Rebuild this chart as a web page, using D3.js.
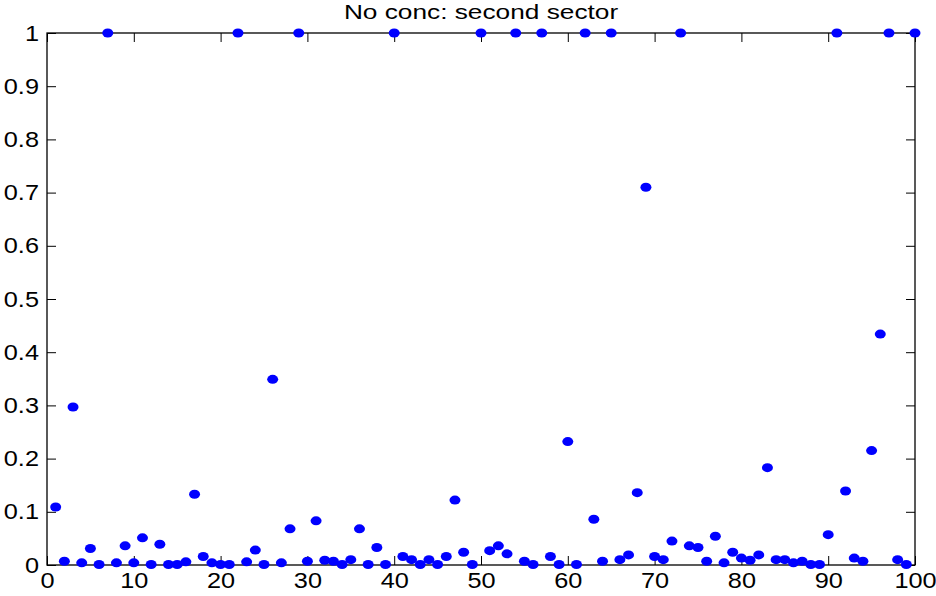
<!DOCTYPE html>
<html>
<head>
<meta charset="utf-8">
<script src="https://cdn.jsdelivr.net/npm/d3@7"></script>
<style>
  body { margin: 0; background: #fff; }
  svg { display: block; font-family: "Liberation Sans", Arial, sans-serif; }
  .axis text { font-size: 22px; fill: #000; }
  .axis line { stroke: #000; }
  .title { font-size: 21px; }
</style>
</head>
<body>
<svg width="936" height="596"></svg>
<script>
  // values, one per index 1..100
  const values = [
    0.109, 0.007, 0.297, 0.004, 0.031, 0.001, 1, 0.004, 0.036, 0.004,
    0.051, 0.001, 0.039, 0.001, 0.001, 0.006, 0.133, 0.016, 0.004, 0.001,
    0.001, 1, 0.006, 0.028, 0.001, 0.349, 0.004, 0.068, 1, 0.007,
    0.083, 0.009, 0.007, 0.001, 0.010, 0.068, 0.001, 0.033, 0.001, 1,
    0.016, 0.010, 0.001, 0.010, 0.001, 0.016, 0.122, 0.024, 0.001, 1,
    0.027, 0.036, 0.021, 1, 0.007, 0.001, 1, 0.016, 0.001, 0.232,
    0.001, 1, 0.086, 0.007, 1, 0.010, 0.019, 0.136, 0.710, 0.016,
    0.010, 0.045, 1, 0.036, 0.033, 0.007, 0.054, 0.004, 0.024, 0.013,
    0.009, 0.019, 0.183, 0.010, 0.010, 0.004, 0.007, 0.001, 0.001, 0.057,
    1, 0.139, 0.013, 0.007, 0.215, 0.434, 1, 0.010, 0.001, 1
  ];
  const index = values.map((v, i) => i + 1);
  const xTicks = [0, 10, 20, 30, 40, 50, 60, 70, 80, 90, 100];
  const yTicks = [0, 0.1, 0.2, 0.3, 0.4, 0.5, 0.6, 0.7, 0.8, 0.9, 1];
  const title = 'No conc: second sector';

  const svg = d3.select('svg');
  const margin = {top: 33, right: 21, bottom: 31, left: 47};
  const width = 936 - margin.left - margin.right;
  const height = 596 - margin.top - margin.bottom;

  const g = svg.append('g')
    .attr('transform', 'translate(' + margin.left + ',' + margin.top + ')');

  const x = d3.scaleLinear().domain([0, 100]).range([0, width]);
  const y = d3.scaleLinear().domain([0, 1]).range([height, 0]);

  // box
  g.append('rect')
    .attr('width', width)
    .attr('height', height)
    .attr('fill', 'none')
    .attr('stroke', '#000')
    .attr('stroke-width', 1.3);

  const tick = 9;
  // bottom + left with labels, top + right mirrored ticks only
  g.append('g')
    .attr('class', 'axis axis-x')
    .attr('transform', 'translate(0,' + height + ')')
    .call(d3.axisBottom(x).tickValues(xTicks).tickSizeInner(-tick).tickSizeOuter(0).tickPadding(7).tickFormat(d3.format('d')));
  g.append('g')
    .attr('class', 'axis axis-y')
    .call(d3.axisLeft(y).tickValues(yTicks).tickSizeInner(-tick).tickSizeOuter(0).tickPadding(7).tickFormat(d => d === 0 || d === 1 ? d : d3.format('.1f')(d)));
  g.append('g')
    .attr('class', 'axis axis-top')
    .call(d3.axisTop(x).tickValues(xTicks).tickSizeInner(-tick).tickSizeOuter(0).tickFormat(''));
  g.append('g')
    .attr('class', 'axis axis-right')
    .attr('transform', 'translate(' + width + ',0)')
    .call(d3.axisRight(y).tickValues(yTicks).tickSizeInner(-tick).tickSizeOuter(0).tickFormat(''));
  g.selectAll('.axis .domain').remove();

  // the original text is a bit wider than Liberation Sans
  g.selectAll('.axis-x text, .axis-y text').attr('transform', 'scale(1.15,1)');

  // markers
  g.selectAll('.dot')
    .data(index)
    .enter()
    .append('ellipse')
      .attr('class', 'dot')
      .attr('cx', d => x(d))
      .attr('cy', d => y(values[d - 1]))
      .attr('rx', 5.5)
      .attr('ry', 4.5)
      .attr('fill', '#0000ff');

  svg.append('text')
    .attr('class', 'title')
    .attr('transform', 'translate(' + (margin.left + width / 2) + ',19) scale(1.25,1)')
    .attr('text-anchor', 'middle')
    .text(title);
</script>
</body>
</html>
